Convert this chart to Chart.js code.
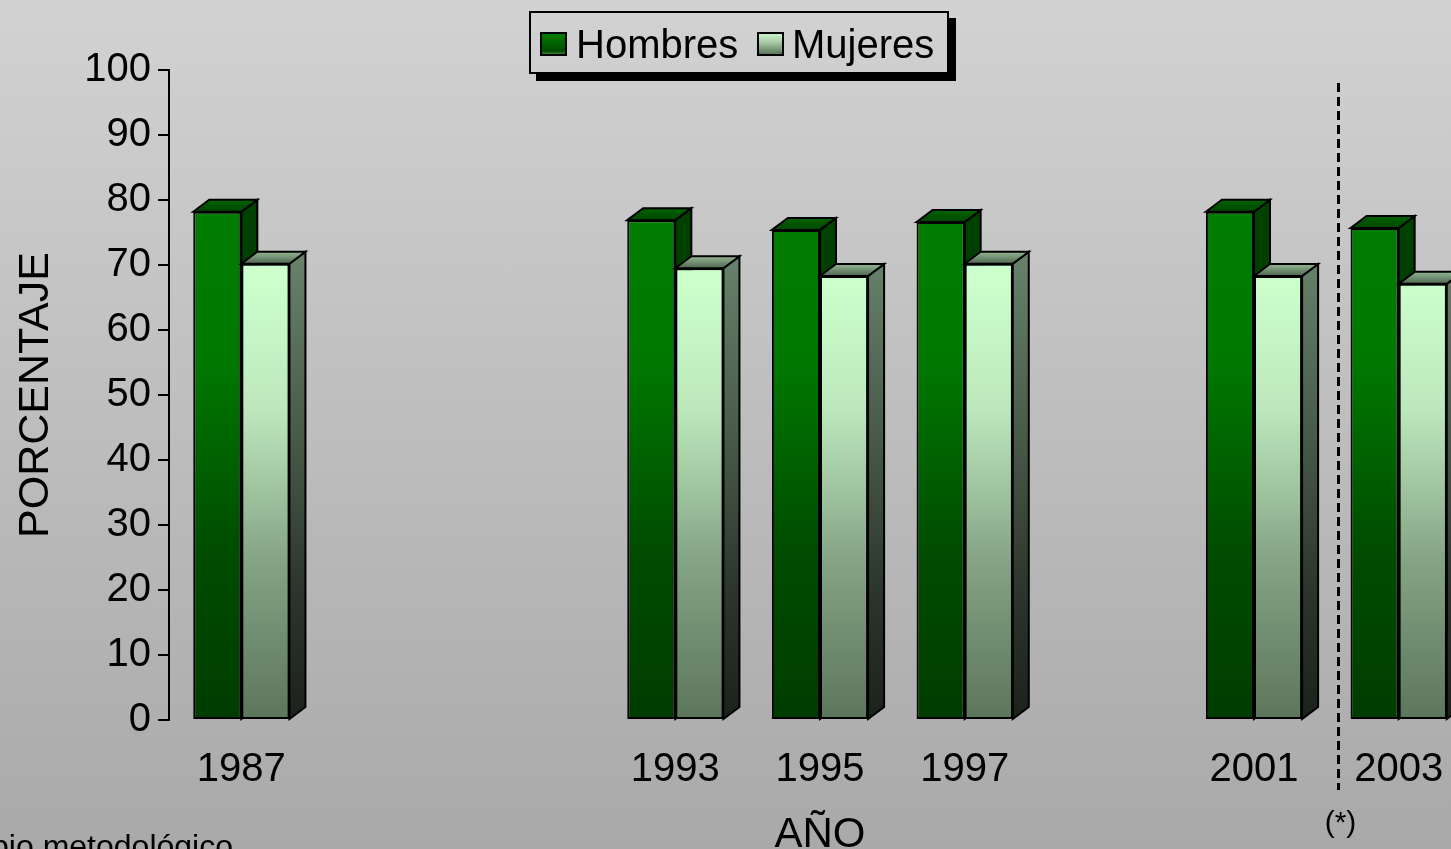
<!DOCTYPE html>
<html><head><meta charset="utf-8">
<script src="https://cdn.jsdelivr.net/npm/chart.js@4.4.0/dist/chart.umd.min.js"></script>
<style>
html,body{margin:0;padding:0;width:1451px;height:849px;overflow:hidden;}
body{background:linear-gradient(to bottom,#d2d2d2 0%,#a9a9a9 100%);position:relative;font-family:"Liberation Sans",Arial,sans-serif;}
#c{position:absolute;left:0;top:0;width:1476px;height:849px;}
#legend{position:absolute;left:529px;top:11px;width:420px;height:63px;box-sizing:border-box;border:2px solid #000;box-shadow:7px 7px 0 #000;}
.mk{position:absolute;width:27px;height:24px;box-sizing:border-box;border:2px solid #000;}
.lt{position:absolute;font-size:40px;line-height:normal;color:#000;white-space:nowrap;}
</style></head>
<body>
<canvas id="c" width="1476" height="849"></canvas>
<div id="legend">
 <div class="mk" style="left:9px;top:19px;background:linear-gradient(#007e00 0%,#004a00 85%,#3a7a3a 100%)"></div>
 <span class="lt" style="left:45px;top:9px">Hombres</span>
 <div class="mk" style="left:226px;top:19px;background:linear-gradient(#c8f4c8 0%,#a8cca8 40%,#7a9a7a 75%,#5a765a 100%)"></div>
 <span class="lt" style="left:261px;top:9px">Mujeres</span>
</div>
<script>
const years = ['1987','1989','1991','1993','1995','1997','1999','2001','2003'];
const yearLabels = ['1987','','','1993','1995','1997','','2001','2003'];
const hombres = [78.2, null, null, 76.9, 75.4, 76.6, null, 78.2, 75.7];
const mujeres = [70.2, null, null, 69.5, 68.3, 70.2, null, 68.3, 67.1];
const seriesNames = ['Hombres', 'Mujeres'];
const yAxisTitle = 'PORCENTAJE';
const xAxisTitle = 'AÑO';
const noteMark = '(*)';
const noteText = '(*) Cambio metodológico';

const FONT = '"Liberation Sans", Arial, sans-serif';
const DX = 16, DY = 12;

function vGrad(ctx, area, stops){
  const g = ctx.createLinearGradient(0, area.top, 0, area.bottom);
  stops.forEach(s => g.addColorStop(s[0], s[1]));
  return g;
}
function hombresFront(c){
  const a = c.chart.chartArea; if(!a) return '#007a00';
  return vGrad(c.chart.ctx, a, [[0,'#008000'],[0.45,'#007800'],[0.74,'#004c00'],[1,'#003c00']]);
}
function mujeresFront(c){
  const a = c.chart.chartArea; if(!a) return '#ccffcc';
  return vGrad(c.chart.ctx, a, [[0,'#ccffcc'],[0.32,'#ccffcc'],[0.52,'#bde8bd'],[0.76,'#84a284'],[1,'#5c765c']]);
}

function drawFaces(chart, el, sideStops, topBack, topFront){
  const ctx = chart.ctx, a = chart.chartArea;
  const p = el.getProps(['x','y','base','width'], true);
  const l = p.x - p.width/2, r = p.x + p.width/2, y = p.y, b = p.base;
  ctx.save();
  ctx.lineWidth = 2; ctx.strokeStyle = '#000'; ctx.lineJoin = 'miter';
  ctx.beginPath();
  ctx.moveTo(r, y); ctx.lineTo(r+DX, y-DY); ctx.lineTo(r+DX, b-DY); ctx.lineTo(r, b); ctx.closePath();
  ctx.fillStyle = vGrad(ctx, a, sideStops); ctx.fill(); ctx.stroke();
  ctx.beginPath();
  ctx.moveTo(l, y); ctx.lineTo(l+DX, y-DY); ctx.lineTo(r+DX, y-DY); ctx.lineTo(r, y); ctx.closePath();
  const tg = ctx.createLinearGradient(0, y-DY, 0, y);
  tg.addColorStop(0, topBack); tg.addColorStop(1, topFront);
  ctx.fillStyle = tg; ctx.fill(); ctx.stroke();
  ctx.restore();
}

const threeD = {
  id: 'threeD',
  afterDatasetsDraw(chart){
    const mH = chart.getDatasetMeta(0), mM = chart.getDatasetMeta(1);
    for(let i = 0; i < years.length; i++){
      if(hombres[i] != null){
        drawFaces(chart, mH.data[i], [[0,'#004600'],[0.6,'#003800'],[1,'#002200']], '#006400', '#004600');
      }
      if(mujeres[i] != null){
        mM.data[i].draw(chart.ctx);
        drawFaces(chart, mM.data[i], [[0,'#6a846a'],[0.3,'#66806a'],[0.55,'#4a5c4a'],[0.8,'#2c362c'],[1,'#1b221b']], '#94b894', '#4f664f');
      }
    }
  },
  afterDraw(chart){
    const ctx = chart.ctx;
    const x = Math.round(chart.scales.x.getPixelForValue(7.5) + 12) + 0.5;
    ctx.save();
    ctx.strokeStyle = '#000'; ctx.lineWidth = 3; ctx.setLineDash([9,5]);
    ctx.beginPath(); ctx.moveTo(x, 83); ctx.lineTo(x, 790); ctx.stroke();
    ctx.setLineDash([]);
    ctx.fillStyle = '#000'; ctx.textBaseline = 'alphabetic';
    ctx.font = '30px ' + FONT; ctx.textAlign = 'center';
    ctx.fillText(noteMark, x + 2, 832);
    ctx.font = '32px ' + FONT; ctx.textAlign = 'right';
    ctx.fillText(noteText, 233, 857);
    ctx.restore();
  }
};

new Chart(document.getElementById('c'), {
  type: 'bar',
  data: {
    labels: years,
    datasets: [
      { label: seriesNames[0], data: hombres, backgroundColor: hombresFront, borderColor: '#000', borderWidth: 2, borderSkipped: false,
        categoryPercentage: 0.665, barPercentage: 1 },
      { label: seriesNames[1], data: mujeres, backgroundColor: mujeresFront, borderColor: '#000', borderWidth: 2, borderSkipped: false,
        categoryPercentage: 0.665, barPercentage: 1 }
    ]
  },
  options: {
    responsive: false, animation: false, devicePixelRatio: 1,
    layout: { padding: { left: 0, right: 5, top: 70, bottom: 0 } },
    plugins: { legend: { display: false }, tooltip: { enabled: false } },
    scales: {
      x: {
        offset: true,
        grid: { display: false, drawTicks: false },
        border: { display: false },
        ticks: { font: { family: FONT, size: 40 }, color: '#000', padding: 26, maxRotation: 0, autoSkip: false,
                 callback: (v, i) => yearLabels[i] },
        title: { display: true, text: xAxisTitle, font: { family: FONT, size: 42, lineHeight: 0.67 }, color: '#000', padding: 0 },
        afterFit: (s) => { s.height = 129; }
      },
      y: {
        min: 0, max: 100,
        ticks: { stepSize: 10, font: { family: FONT, size: 40 }, color: '#000', padding: 7 },
        grid: { drawOnChartArea: false, color: '#000', lineWidth: 2, tickLength: 11 },
        border: { display: true, color: '#000', width: 2 },
        title: { display: true, text: yAxisTitle, font: { family: FONT, size: 43 }, color: '#000', padding: { top: 10, bottom: 0 } },
        afterFit: (s) => { s.width = 169; }
      }
    }
  },
  plugins: [threeD]
});
</script>
</body></html>
